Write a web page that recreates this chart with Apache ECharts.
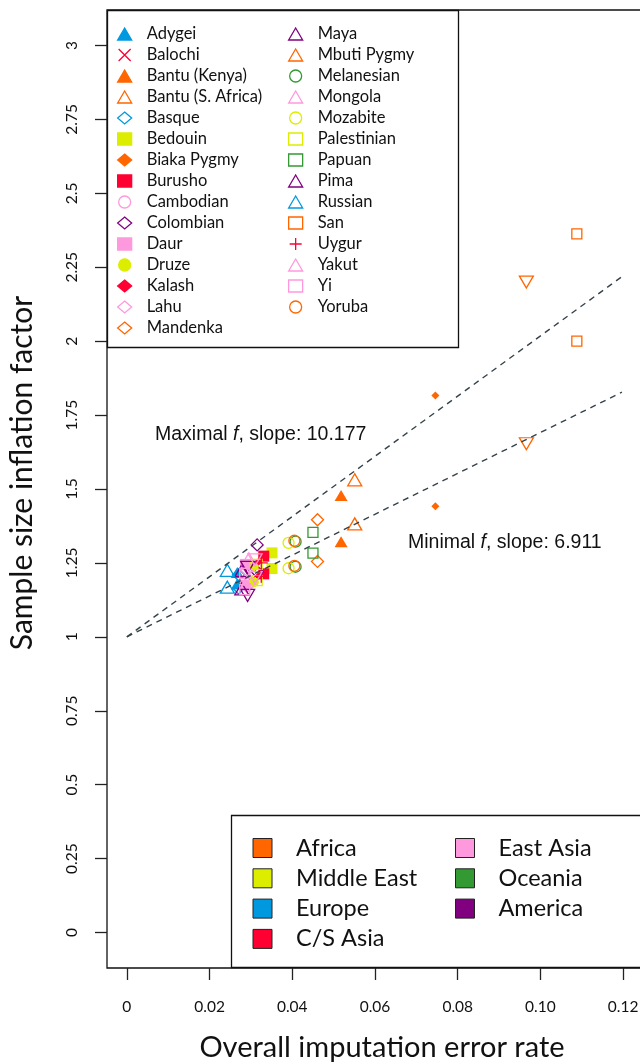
<!DOCTYPE html>
<html>
<head>
<meta charset="utf-8">
<script src="https://cdn.jsdelivr.net/npm/echarts@6/dist/echarts.min.js"></script>
<style>
html, body { margin: 0; padding: 0; background: #fff; }
#main { width: 640px; height: 1062px; }
</style>
</head>
<body>
<div id="main"></div>
<script>
// populations (legend order), their region and marker
var pops = ['Adygei', 'Balochi', 'Bantu (Kenya)', 'Bantu (S. Africa)', 'Basque', 'Bedouin',
  'Biaka Pygmy', 'Burusho', 'Cambodian', 'Colombian', 'Daur', 'Druze', 'Kalash', 'Lahu',
  'Mandenka', 'Maya', 'Mbuti Pygmy', 'Melanesian', 'Mongola', 'Mozabite', 'Palestinian',
  'Papuan', 'Pima', 'Russian', 'San', 'Uygur', 'Yakut', 'Yi', 'Yoruba'];
var popRegion = ['Europe', 'C/S Asia', 'Africa', 'Africa', 'Europe', 'Middle East',
  'Africa', 'C/S Asia', 'East Asia', 'America', 'East Asia', 'Middle East', 'C/S Asia', 'East Asia',
  'Africa', 'America', 'Africa', 'Oceania', 'East Asia', 'Middle East', 'Middle East',
  'Oceania', 'America', 'Europe', 'Africa', 'C/S Asia', 'East Asia', 'East Asia', 'Africa'];
var popMarker = ['triFill', 'x', 'triFill', 'tri', 'diamond', 'squareFill',
  'diamondFill', 'squareFill', 'circle', 'diamond', 'squareFill', 'circleFill', 'diamondFill', 'diamond',
  'diamond', 'tri', 'triDown', 'circle', 'tri', 'circle', 'square',
  'square', 'triDown', 'tri', 'square', 'plus', 'triDown', 'square', 'circle'];

// overall imputation error rate and inflation factor (maximal / minimal f)
var errRate = [0.0267, 0.0300, 0.0518, 0.0551, 0.0270, 0.0351,
  0.0746, 0.0331, 0.0295, 0.0315, 0.0287, 0.0307, 0.0319, 0.0290,
  0.0461, 0.0278, 0.0966, 0.0408, 0.0295, 0.0391, 0.0315,
  0.0450, 0.0292, 0.0243, 0.1088, 0.0325, 0.0310, 0.0285, 0.0405];
var fMax = [1.218, 1.240, 1.478, 1.531, 1.210, 1.284,
  1.816, 1.273, 1.235, 1.311, 1.245, 1.240, 1.255, 1.225,
  1.396, 1.224, 2.200, 1.322, 1.264, 1.318, 1.245,
  1.353, 1.235, 1.225, 2.363, 1.250, 1.260, 1.215, 1.325];
var fMin = [1.179, 1.190, 1.322, 1.382, 1.165, 1.231,
  1.442, 1.213, 1.180, 1.220, 1.175, 1.185, 1.207, 1.170,
  1.255, 1.162, 1.653, 1.237, 1.195, 1.232, 1.190,
  1.283, 1.140, 1.168, 2.000, 1.205, 1.200, 1.160, 1.240];

var regions = ['Africa', 'Middle East', 'Europe', 'C/S Asia', 'East Asia', 'Oceania', 'America'];
var regionColors = ['#ff6600', '#dded00', '#0099e0', '#ff0033', '#ff99dd', '#339933', '#800080'];

// fitted lines through (0, 1)
var fitNames = ['Maximal', 'Minimal'];
var fitSlopes = [10.177, 6.911];
var fitX = [0, 0.1197];

var yTicks = [0, 0.25, 0.5, 0.75, 1, 1.25, 1.5, 1.75, 2, 2.25, 2.5, 2.75, 3];
var xTicks = [0, 0.02, 0.04, 0.06, 0.08, 0.10, 0.12];

var markers = {
  triFill: { symbol: 'triangle', size: [13, 11], fill: true },
  tri: { symbol: 'triangle', size: [14, 12], fill: false },
  triDown: { symbol: 'triangle', size: [14, 12], fill: false, rotate: 180 },
  diamond: { symbol: 'diamond', size: [12, 12], fill: false },
  diamondFill: { symbol: 'diamond', size: [8, 8], fill: true },
  square: { symbol: 'rect', size: [10, 10], fill: false },
  squareFill: { symbol: 'rect', size: [11, 11], fill: true },
  circle: { symbol: 'circle', size: [11, 11], fill: false },
  circleFill: { symbol: 'circle', size: [10, 10], fill: true },
  x: { symbol: 'path://M0,0L10,10M10,0L0,10', size: [10, 10], fill: false },
  plus: { symbol: 'path://M0,6L12,6M6,0L6,12', size: [13, 13], fill: false }
};

var myChart = echarts.init(document.getElementById('main'));

var series = [];
pops.forEach(function (name, i) {
  var m = markers[popMarker[i]];
  var c = regionColors[regions.indexOf(popRegion[i])];
  series.push({
    name: name,
    type: 'scatter',
    symbol: m.symbol,
    symbolSize: m.size,
    symbolRotate: m.rotate || 0,
    itemStyle: m.fill
      ? { color: c, borderColor: c, borderWidth: 0, opacity: 1 }
      : { color: 'rgba(0,0,0,0)', borderColor: c, borderWidth: 1.3, opacity: 1 },
    emphasis: { disabled: true },
    z: 3,
    data: [[errRate[i], fMax[i]], [errRate[i], fMin[i]]]
  });
});

// empty series only for the region legend
regions.forEach(function (r, i) {
  series.push({
    name: r,
    type: 'scatter',
    symbol: 'rect',
    itemStyle: { color: regionColors[i], borderColor: '#222', borderWidth: 1, opacity: 1 },
    data: []
  });
});

fitSlopes.forEach(function (s, i) {
  series.push({
    name: fitNames[i] + ' f',
    type: 'line',
    symbol: 'none',
    silent: true,
    z: 4,
    lineStyle: { color: '#34434a', width: 1.4, type: [6, 5] },
    data: fitX.map(function (x) { return [x, 1 + s * x]; })
  });
});

var legendText = { fontFamily: 'Lato', fontSize: 16.5, color: '#111', padding: [0, 0, 0, 10] };
var regionText = { fontFamily: 'Lato', fontSize: 23.5, color: '#111', padding: [0, 0, 0, 19] };

var option = {
  animation: false,
  backgroundColor: '#fff',
  grid: {
    left: 107, top: 10, right: -3, bottom: 94,
    show: true, borderColor: '#111', borderWidth: 1.3,
    outerBoundsMode: 'none'
  },
  xAxis: {
    type: 'value',
    min: -0.0048, max: 0.1248,
    name: 'Overall imputation error rate',
    nameLocation: 'middle',
    nameGap: 65,
    nameTextStyle: { fontFamily: 'Lato', fontSize: 29, color: '#111', padding: [0, 0, 0, 14] },
    axisLine: { show: false, onZero: false },
    splitLine: { show: false },
    axisTick: { show: true, length: 12, customValues: xTicks, lineStyle: { color: '#222', width: 1.3 } },
    axisLabel: {
      customValues: xTicks, margin: 31,
      fontFamily: 'Lato', fontSize: 15.5, color: '#111',
      formatter: function (v) { return v === 0 ? '0' : v.toFixed(2); }
    }
  },
  yAxis: {
    type: 'value',
    min: -0.12, max: 3.12,
    name: 'Sample size inflation factor',
    nameLocation: 'middle',
    nameGap: 70,
    nameTextStyle: { fontFamily: 'Lato', fontSize: 30, color: '#111', padding: [0, 0, 0, 32] },
    axisLine: { show: false, onZero: false },
    splitLine: { show: false },
    axisTick: { show: true, length: 12, customValues: yTicks, lineStyle: { color: '#222', width: 1.3 } },
    axisLabel: {
      customValues: yTicks, margin: 27, rotate: 90,
      fontFamily: 'Lato', fontSize: 15.5, color: '#111',
      formatter: function (v) { return String(v); }
    }
  },
  legend: [
    { data: pops.slice(0, 15), orient: 'vertical', left: 117, top: 25.5, padding: 0,
      itemWidth: 14, itemHeight: 12, itemGap: 4.0, selectedMode: false,
      itemStyle: { borderWidth: 1.3 }, textStyle: legendText, z: 10 },
    { data: pops.slice(15), orient: 'vertical', left: 288, top: 25.5, padding: 0,
      itemWidth: 14, itemHeight: 12, itemGap: 4.0, selectedMode: false,
      itemStyle: { borderWidth: 1.3 }, textStyle: legendText, z: 10 },
    { data: regions.slice(0, 4), orient: 'vertical', left: 252.5, top: 836, padding: 0,
      itemWidth: 19, itemHeight: 19, itemGap: 6.3, selectedMode: false,
      itemStyle: { borderWidth: 1 }, textStyle: regionText, z: 10 },
    { data: regions.slice(4), orient: 'vertical', left: 455, top: 836, padding: 0,
      itemWidth: 19, itemHeight: 19, itemGap: 6.3, selectedMode: false,
      itemStyle: { borderWidth: 1 }, textStyle: regionText, z: 10 }
  ],
  graphic: [
    { type: 'rect', z: 5, shape: { x: 107.5, y: 10.5, width: 351, height: 337 },
      style: { fill: '#fff', stroke: '#111', lineWidth: 1.3 } },
    { type: 'rect', z: 5, shape: { x: 231.5, y: 815.5, width: 420, height: 152 },
      style: { fill: '#fff', stroke: '#111', lineWidth: 1.3 } },
    { type: 'text', z: 6, left: 155, top: 425,
      style: {
        text: '{n|Maximal }{i|f}{n|, slope: ' + fitSlopes[0] + '}',
        rich: {
          n: { fontFamily: 'Liberation Sans', fontSize: 19.5, fill: '#111' },
          i: { fontFamily: 'Liberation Sans', fontSize: 19.5, fontStyle: 'italic', fill: '#111' }
        }
      } },
    { type: 'text', z: 6, left: 408, top: 533,
      style: {
        text: '{n|Minimal }{i|f}{n|, slope: ' + fitSlopes[1] + '}',
        rich: {
          n: { fontFamily: 'Liberation Sans', fontSize: 19.5, fill: '#111' },
          i: { fontFamily: 'Liberation Sans', fontSize: 19.5, fontStyle: 'italic', fill: '#111' }
        }
      } }
  ],
  series: series
};

myChart.setOption(option);
window.onresize = function () { myChart.resize(); };
</script>
</body>
</html>
